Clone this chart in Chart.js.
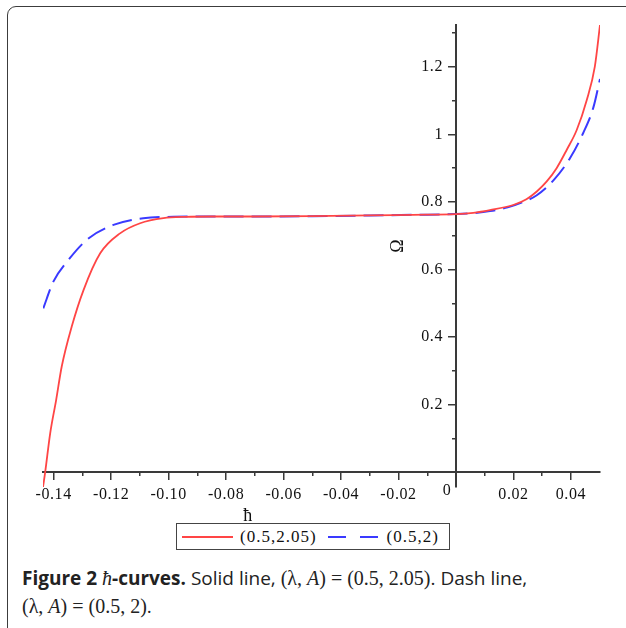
<!DOCTYPE html>
<html>
<head>
<meta charset="utf-8">
<script src="https://cdn.jsdelivr.net/npm/chart.js@4.4.1/dist/chart.umd.min.js"></script>
<style>
  html, body { margin: 0; padding: 0; background: #fff; }
  body { width: 626px; height: 628px; position: relative; overflow: hidden; }
  #frame { position: absolute; left: 7px; top: 6px; width: 680px; height: 680px;
           border: 1.5px solid #3c3c3c; border-radius: 9px; }
  #plot { position: absolute; left: 0; top: 0; }
  #legend { position: absolute; left: 176px; top: 523px; width: 272px; height: 25px;
            border: 1.5px solid #444; display: flex; align-items: center; background: #fff;
            font: 17px "Liberation Serif", "Times New Roman", serif; letter-spacing: 1px; color: #111; }
  #legend .sample { display: inline-block; width: 51px; height: 2px; margin: 0 7px 0 5px; }
  #legend .sample.dash { width: 50px; margin-left: 11px; margin-right: 9px; display: inline-flex; justify-content: space-between; }
  #legend .sample.dash i { display: block; width: 18px; height: 2px; }
  #caption { position: absolute; left: 22px; top: 564px; width: 604px; white-space: nowrap;
             font: 19px "Open Sans", sans-serif; line-height: 28px; color: #222; }
  #caption b { font-weight: 700; }
  #caption .m { font-family: "Liberation Serif", "DejaVu Serif", serif; font-size: 20px; }
</style>
</head>
<body>
<div id="frame"></div>
<canvas id="plot" width="626" height="560"></canvas>
<div id="legend"></div>
<div id="caption"><b>Figure 2</b> <span class="m"><i>ħ</i></span><b>-curves.</b> Solid line, <span class="m">(λ, <i>A</i>) = (0.5, 2.05)</span>. Dash line,<br><span class="m">(λ, <i>A</i>) = (0.5, 2)</span>.</div>
<script>
// h values and Omega values
const H_RED = [-0.1437, -0.1430, -0.1412, -0.1391, -0.1372, -0.1337, -0.1296, -0.1238, -0.1169, -0.1099,
               -0.1018, -0.094, -0.085, -0.07, -0.05, -0.03, -0.015, 0, 0.006, 0.0118,
               0.0199, 0.0245, 0.0281, 0.0315, 0.0350, 0.0385, 0.0420, 0.0455, 0.0483, 0.0501];
const OMEGA_RED = [-0.044, -0.004, 0.115, 0.215, 0.312, 0.431, 0.539, 0.648, 0.707, 0.737,
                   0.752, 0.756, 0.757, 0.757, 0.758, 0.760, 0.762, 0.764, 0.768, 0.776,
                   0.791, 0.808, 0.831, 0.860, 0.900, 0.954, 1.013, 1.102, 1.201, 1.324];

const H_BLUE = [-0.1436, -0.1401, -0.1349, -0.1279, -0.1192, -0.1088, -0.0983, -0.09, -0.07, -0.05,
                -0.03, -0.015, 0, 0.006, 0.0118, 0.0180, 0.0234, 0.0281, 0.0339, 0.0397,
                0.0443, 0.0478, 0.0501];
const OMEGA_BLUE = [0.485, 0.564, 0.628, 0.692, 0.732, 0.752, 0.756, 0.757, 0.757, 0.758,
                    0.760, 0.762, 0.764, 0.767, 0.773, 0.784, 0.800, 0.820, 0.864, 0.930,
                    1.005, 1.080, 1.164];

const SERIES_LABELS = ['(0.5,2.05)', '(0.5,2)'];

const X_MAJOR = [-0.14, -0.12, -0.10, -0.08, -0.06, -0.04, -0.02, 0.02, 0.04];
const X_LABELS = ['-0.14', '-0.12', '-0.10', '-0.08', '-0.06', '-0.04', '-0.02', '0.02', '0.04'];
const X_MINOR = [-0.13, -0.11, -0.09, -0.07, -0.05, -0.03, -0.01, 0.01, 0.03];
const Y_MAJOR = [0.2, 0.4, 0.6, 0.8, 1, 1.2];
const Y_LABELS = ['0.2', '0.4', '0.6', '0.8', '1', '1.2'];
const Y_MINOR = [0.1, 0.3, 0.5, 0.7, 0.9, 1.1, 1.3];

const X_MIN = -0.1437, X_MAX = 0.0501;
const Y_MIN = -0.044, Y_MAX = 1.324;

const RED = '#ff4545';
const BLUE = '#3a3aff';
const AXIS = '#3a3a3a';
const TEXT = '#111';
const SERIF = '"Liberation Serif", "Times New Roman", serif';

const pts = (xs, ys) => xs.map((x, i) => ({ x: x, y: ys[i] }));

// axis pieces shared by major / minor scales
function axisScale(min, max, pos, tickList, labels, tickLen, showBorder) {
    return {
        type: 'linear', min: min, max: max, position: pos,
        afterBuildTicks: s => { s.ticks = tickList.map(v => ({ value: v })); },
        grid: { drawOnChartArea: false, drawTicks: true, tickLength: tickLen, color: AXIS, lineWidth: 1.5 },
        border: { display: showBorder, color: AXIS, width: 2 },
        ticks: {
            display: !!labels, autoSkip: false, maxRotation: 0, padding: 6,
            color: TEXT, font: { family: SERIF, size: 16 },
            callback: (v, i) => labels ? labels[i] : ''
        }
    };
}

// y labels sit left of the crossing axis, "0" on the h axis, both axis titles
const extras = {
    id: 'extras',
    beforeDraw(c) { c.ctx.letterSpacing = '0.6px'; },
    afterDraw(c) {
        const { ctx, chartArea } = c;
        const x = c.scales.x, y = c.scales.y;
        const x0 = x.getPixelForValue(0), y0 = y.getPixelForValue(0);
        ctx.save();
        ctx.fillStyle = TEXT;
        ctx.font = '16px ' + SERIF;
        ctx.textBaseline = 'middle';
        ctx.textAlign = 'right';
        Y_MAJOR.forEach((v, i) => ctx.fillText(Y_LABELS[i], x0 - 13, y.getPixelForValue(v)));
        ctx.textAlign = 'center';
        ctx.fillText('0', x0 - 9, y0 + 19);
        ctx.font = '18px ' + SERIF;
        ctx.fillText('ħ', chartArea.left + 205, chartArea.bottom + 29);
        ctx.translate(x0 - 58, y.getPixelForValue(0.67));
        ctx.rotate(-Math.PI / 2);
        ctx.fillText('Ω', 0, 0);
        ctx.restore();
    }
};

const yMajor = axisScale(Y_MIN, Y_MAX, { x: 0 }, Y_MAJOR, null, 7, true);

const chart = new Chart(document.getElementById('plot'), {
    type: 'line',
    data: {
        datasets: [
            {
                label: SERIES_LABELS[0], data: pts(H_RED, OMEGA_RED),
                borderColor: RED, borderWidth: 1.8, pointRadius: 0,
                cubicInterpolationMode: 'monotone', fill: false
            },
            {
                label: SERIES_LABELS[1], data: pts(H_BLUE, OMEGA_BLUE),
                borderColor: BLUE, borderWidth: 2, borderDash: [20, 8], pointRadius: 0,
                cubicInterpolationMode: 'monotone', fill: false
            }
        ]
    },
    options: {
        responsive: false,
        animation: false,
        layout: { padding: { left: 43, right: 26, top: 25, bottom: 73 } },
        plugins: { legend: { display: false }, tooltip: { enabled: false } },
        scales: {
            x: axisScale(X_MIN, X_MAX, { y: 0 }, X_MAJOR, X_LABELS, 7, true),
            xMinor: axisScale(X_MIN, X_MAX, { y: 0 }, X_MINOR, null, 4, false),
            y: yMajor,
            yMinor: axisScale(Y_MIN, Y_MAX, { x: 0 }, Y_MINOR, null, 4, false)
        }
    },
    plugins: [extras]
});

// boxed legend under the plot, built from the datasets
const legend = document.getElementById('legend');
chart.data.datasets.forEach(ds => {
    const s = document.createElement('span');
    s.className = 'sample' + (ds.borderDash ? ' dash' : '');
    if (ds.borderDash) {
        s.innerHTML = '<i></i><i></i>';
        s.querySelectorAll('i').forEach(d => d.style.background = ds.borderColor);
    } else {
        s.style.background = ds.borderColor;
    }
    const t = document.createElement('span');
    t.textContent = ds.label;
    legend.appendChild(s);
    legend.appendChild(t);
});
</script>
</body>
</html>
